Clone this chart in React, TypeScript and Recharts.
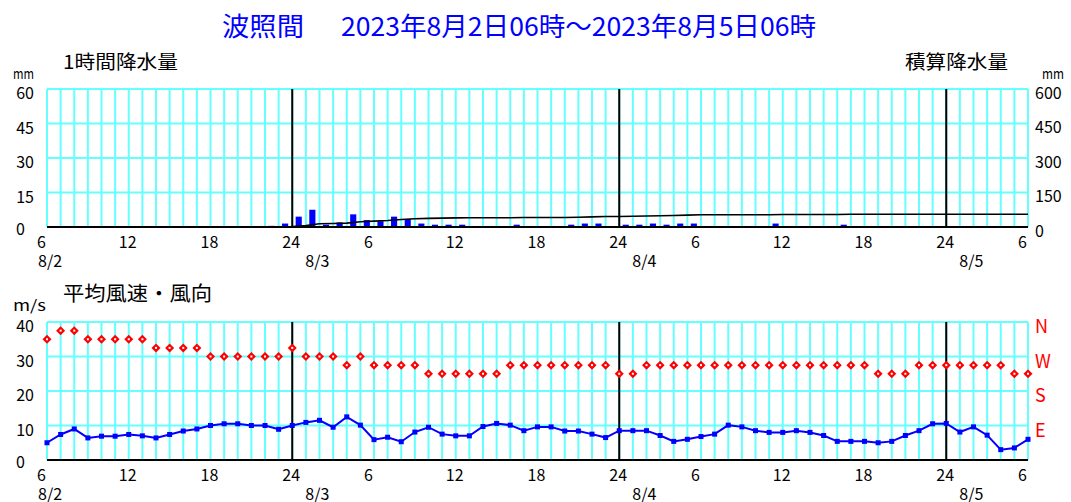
import React from "react";
import {
  ComposedChart,
  Bar,
  Line,
  XAxis,
  YAxis,
  CartesianGrid,
  ReferenceLine,
} from "recharts";

const FONT = '"Noto Sans CJK JP", "Noto Sans", sans-serif';

// x axis: hours since 8/2 06:00, one grid line per hour
const hourTicks = Array.from({ length: 73 }, (_, i) => i);
const xTickLabels = ["6", "12", "18", "24", "6", "12", "18", "24", "6", "12", "18", "24", "6"];
const dateLabels = ["8/2", "8/3", "8/4", "8/5"];
const dateHours = [0, 18, 42, 66];
const midnightHours = [18, 42, 66];

const rainTicks = [0, 15, 30, 45, 60];
const totalTicks = [0, 150, 300, 450, 600];
const windTicks = [0, 10, 20, 30, 40];
const dirTicks = [10, 20, 30, 40];
const dirTickLabels = ["E", "S", "W", "N"];

// hourly precipitation (mm), value for the hour ending at 1..72
const rainHourly = [
  0, 0, 0, 0, 0, 0,
  0, 0, 0, 0, 0, 0,
  0, 0, 0, 0, 0.5, 1.5,
  4.5, 7.5, 1.0, 2.0, 5.5, 3.0,
  2.5, 4.5, 3.5, 1.5, 1.0, 1.0,
  1.0, 0, 0, 0, 1.0, 0,
  0, 0, 1.0, 1.5, 1.5, 0,
  1.0, 1.0, 1.5, 1.0, 1.5, 1.5,
  0, 0, 0, 0, 0, 1.5,
  0, 0, 0, 0, 1.0, 0,
  0, 0, 0, 0, 0, 0,
  0, 0, 0, 0, 0, 0,
];

// accumulated precipitation (mm) at hours 0..72
const rainTotal = [
  null, null, null, null, null, null,
  null, null, null, null, null, null,
  null, null, null, null, 0, 0.5,
  2.0, 6.5, 14.0, 15.0, 17.0, 22.5,
  25.5, 28.0, 32.5, 36.0, 37.5, 38.5,
  39.5, 40.5, 40.5, 40.5, 40.5, 41.5,
  41.5, 41.5, 41.5, 42.5, 44.0, 45.5,
  45.5, 46.5, 47.5, 49.0, 50.0, 51.5,
  53.0, 53.0, 53.0, 53.0, 53.0, 53.0,
  54.5, 54.5, 54.5, 54.5, 54.5, 55.5,
  55.5, 55.5, 55.5, 55.5, 55.5, 55.5,
  55.5, 55.5, 55.5, 55.5, 55.5, 55.5,
  55.5,
];

// mean wind speed (m/s) at hours 0..72
const windSpeed = [
  5.0, 7.4, 9.0, 6.4, 6.9, 6.9,
  7.4, 7.0, 6.4, 7.4, 8.4, 9.0,
  10.0, 10.5, 10.5, 10.0, 10.0, 8.9,
  10.0, 10.9, 11.5, 9.5, 12.5, 10.1,
  5.9, 6.6, 5.3, 8.1, 9.5, 7.5,
  7.0, 7.0, 9.7, 10.6, 10.1, 8.5,
  9.6, 9.6, 8.4, 8.4, 7.5, 6.5,
  8.5, 8.5, 8.5, 7.1, 5.4, 6.0,
  6.8, 7.5, 10.1, 9.6, 8.5, 8.0,
  8.0, 8.5, 8.0, 7.1, 5.4, 5.4,
  5.4, 5.0, 5.4, 7.1, 8.5, 10.5,
  10.6, 8.1, 9.6, 7.2, 3.0, 3.5,
  6.0,
];

// wind direction (16 points) at hours 0..72
const windDir = [
  "NW", "NNW", "NNW", "NW", "NW", "NW",
  "NW", "NW", "WNW", "WNW", "WNW", "WNW",
  "W", "W", "W", "W", "W", "W",
  "WNW", "W", "W", "W", "WSW", "W",
  "WSW", "WSW", "WSW", "WSW", "SW", "SW",
  "SW", "SW", "SW", "SW", "WSW", "WSW",
  "WSW", "WSW", "WSW", "WSW", "WSW", "WSW",
  "SW", "SW", "WSW", "WSW", "WSW", "WSW",
  "WSW", "WSW", "WSW", "WSW", "WSW", "WSW",
  "WSW", "WSW", "WSW", "WSW", "WSW", "WSW",
  "WSW", "SW", "SW", "SW", "WSW", "WSW",
  "WSW", "WSW", "WSW", "WSW", "WSW", "SW",
  "SW",
];

// position of each compass point on the 0-40 scale (N top, then W, S, E)
const compass: Record<string, number> = {
  N: 40, NNW: 37.5, NW: 35, WNW: 32.5, W: 30, WSW: 27.5, SW: 25, SSW: 22.5,
  S: 20, SSE: 17.5, SE: 15, ESE: 12.5, E: 10, ENE: 7.5, NE: 5, NNE: 2.5,
};

const rainData: any[] = [];
hourTicks.forEach((h) => {
  if (h > 0) rainData.push({ t: h - 0.5, rain: rainHourly[h - 1] || null });
  rainData.push({ t: h, total: rainTotal[h] });
});

const windData = hourTicks.map((h) => ({
  t: h,
  speed: windSpeed[h],
  dir: compass[windDir[h]],
}));

const GRID = "#66ffff";

const XTick = (props: any) => {
  const { x, y, payload } = props;
  const h = payload.value;
  const label = h % 6 === 0 ? xTickLabels[h / 6] : null;
  const di = dateHours.indexOf(h);
  return (
    <g fontFamily={FONT} fontSize={16} fill="#000">
      {label && (
        <text x={x - 10} y={y + 19}>
          {label}
        </text>
      )}
      {di >= 0 && (
        <text x={di === 0 ? x - 9 : x + 13} y={y + 38}>
          {dateLabels[di]}
        </text>
      )}
    </g>
  );
};

const LeftTick = ({ y, payload }: any) =>
  payload.value === 0 ? (
    <text x={16} y={y + 8} fontFamily={FONT} fontSize={16} fill="#000">
      0
    </text>
  ) : (
    <text x={34} y={y + 10} textAnchor="end" fontFamily={FONT} fontSize={16} fill="#000">
      {payload.value}
    </text>
  );

const RightTick = ({ y, payload }: any) => (
  <text x={1035} y={y + 9.5} fontFamily={FONT} fontSize={16} fill="#000">
    {payload.value}
  </text>
);

const DirTick = ({ y, payload }: any) => (
  <text x={1035} y={y + 11} fontFamily={FONT} fontSize={18} fill="#ff0000">
    {dirTickLabels[dirTicks.indexOf(payload.value)]}
  </text>
);

const SquareDot = ({ cx, cy }: any) =>
  cx == null || cy == null ? null : (
    <rect x={cx - 2.5} y={cy - 2.5} width={5} height={5} fill="#0000ff" />
  );

const Diamond = ({ cx, cy }: any) =>
  cx == null || cy == null ? null : (
    <g>
      <polygon
        points={`${cx},${cy - 4.5} ${cx + 4.5},${cy} ${cx},${cy + 4.5} ${cx - 4.5},${cy}`}
        fill="#ff0000"
      />
      <rect x={cx - 1} y={cy - 1} width={2} height={2} fill="#fff" />
    </g>
  );

const xAxisProps = {
  dataKey: "t",
  type: "number" as const,
  domain: [0, 72],
  ticks: hourTicks,
  interval: 0 as const,
  tickSize: 0,
  tickLine: false,
  height: 30,
  axisLine: { stroke: "#000", strokeWidth: 2 },
  tick: <XTick />,
};

export default function App() {
  return (
    <div style={{ position: "absolute", left: 0, top: 0, width: 1071, height: 502, background: "#fff" }}>
      <svg width={1071} height={502} style={{ position: "absolute", left: 0, top: 0 }} fontFamily={FONT}>
        <text x={222} y={36} fontSize={26} fill="#0000ff" textLength={82} lengthAdjust="spacingAndGlyphs">
          波照間
        </text>
        <text x={341} y={36} fontSize={26} fill="#0000ff" textLength={475} lengthAdjust="spacingAndGlyphs">
          2023年8月2日06時～2023年8月5日06時
        </text>
        <text x={63} y={69} fontSize={19} fill="#000" textLength={115} lengthAdjust="spacingAndGlyphs">
          1時間降水量
        </text>
        <text x={905} y={69} fontSize={19} fill="#000" textLength={103} lengthAdjust="spacingAndGlyphs">
          積算降水量
        </text>
        <text x={13} y={79} fontSize={14} fill="#000" textLength={21} lengthAdjust="spacingAndGlyphs">
          mm
        </text>
        <text x={1042} y={79} fontSize={14} fill="#000" textLength={22} lengthAdjust="spacingAndGlyphs">
          mm
        </text>
        <text x={63} y={301} fontSize={20} fill="#000" textLength={149} lengthAdjust="spacingAndGlyphs">
          平均風速・風向
        </text>
        <text x={13} y={311} fontSize={15} fill="#000" textLength={33} lengthAdjust="spacingAndGlyphs">
          m/s
        </text>
      </svg>

      <div style={{ position: "absolute", left: 0, top: 0 }}>
        <ComposedChart width={1071} height={280} data={rainData} margin={{ top: 89, right: 3, bottom: 23, left: 7 }}>
          <CartesianGrid stroke={GRID} strokeWidth={2} />
          <XAxis {...xAxisProps} />
          <YAxis
            domain={[0, 60]}
            ticks={rainTicks}
            interval={0}
            width={40}
            axisLine={false}
            tickLine={false}
            tickSize={0}
            tick={<LeftTick />}
          />
          <YAxis
            yAxisId="r"
            orientation="right"
            domain={[0, 600]}
            ticks={totalTicks}
            interval={0}
            width={40}
            axisLine={false}
            tickLine={false}
            tickSize={0}
            tick={<RightTick />}
          />
          {midnightHours.map((h) => (
            <ReferenceLine key={h} x={h} stroke="#000" strokeWidth={2} />
          ))}
          <Bar dataKey="rain" fill="#0000ff" barSize={7} isAnimationActive={false} />
          <Line
            yAxisId="r"
            dataKey="total"
            type="linear"
            stroke="#000"
            strokeWidth={1.6}
            dot={false}
            connectNulls
            isAnimationActive={false}
          />
        </ComposedChart>
      </div>

      <div style={{ position: "absolute", left: 0, top: 280 }}>
        <ComposedChart width={1071} height={222} data={windData} margin={{ top: 42, right: 3, bottom: 12, left: 7 }}>
          <CartesianGrid stroke={GRID} strokeWidth={2} />
          <XAxis {...xAxisProps} />
          <YAxis
            domain={[0, 40]}
            ticks={windTicks}
            interval={0}
            width={40}
            axisLine={false}
            tickLine={false}
            tickSize={0}
            tick={<LeftTick />}
          />
          <YAxis
            yAxisId="r"
            orientation="right"
            domain={[0, 40]}
            ticks={dirTicks}
            interval={0}
            width={40}
            axisLine={false}
            tickLine={false}
            tickSize={0}
            tick={<DirTick />}
          />
          {midnightHours.map((h) => (
            <ReferenceLine key={h} x={h} stroke="#000" strokeWidth={2} />
          ))}
          <Line
            dataKey="speed"
            type="linear"
            stroke="#0000ff"
            strokeWidth={2}
            dot={<SquareDot />}
            isAnimationActive={false}
          />
          <Line
            yAxisId="r"
            dataKey="dir"
            stroke="none"
            dot={<Diamond />}
            isAnimationActive={false}
          />
        </ComposedChart>
      </div>
    </div>
  );
}
